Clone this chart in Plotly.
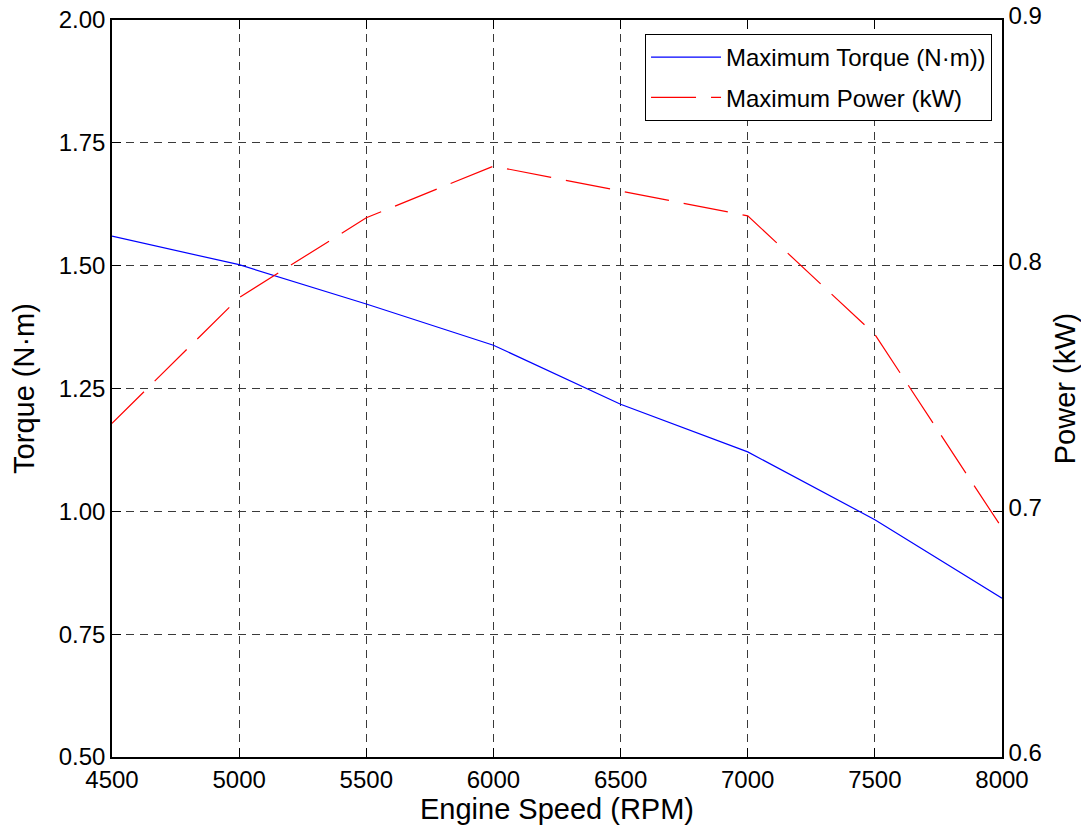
import plotly.graph_objects as go

# Engine performance curves
rpm = [4500, 5000, 5500, 6000, 6500, 7000, 7500, 8000]
torque_nm = [1.560, 1.502, 1.422, 1.338, 1.218, 1.121, 0.983, 0.823]
power_kw = [0.7358, 0.7870, 0.8195, 0.8405, 0.8304, 0.8203, 0.7720, 0.6932]

torque_ticks = [0.50, 0.75, 1.00, 1.25, 1.50, 1.75, 2.00]
power_ticks = [0.6, 0.7, 0.8, 0.9]
rpm_ticks = [4500, 5000, 5500, 6000, 6500, 7000, 7500, 8000]

FONT = "Liberation Sans, Arial, sans-serif"
fig = go.Figure()

fig.add_trace(go.Scatter(
    x=rpm, y=torque_nm, mode="lines", name="Maximum Torque (N·m))",
    legendgroup="torque",
    line=dict(color="#0000ff", width=1.2), yaxis="y"))
fig.add_trace(go.Scatter(
    x=rpm, y=power_kw, mode="lines", name="Maximum Power (kW)",
    legendgroup="power",
    line=dict(color="#ff0000", width=1.2, dash="45px,15px"), yaxis="y2"))

grid = dict(showgrid=True, gridcolor="#3a3a3a", gridwidth=1, griddash="8px,6px")

fig.update_layout(
    width=1081, height=829,
    margin=dict(l=112, r=79, t=20, b=72),
    paper_bgcolor="white", plot_bgcolor="white",
    font=dict(family=FONT, size=24, color="black"),
    xaxis=dict(
        range=[4500, 8000], tickvals=rpm_ticks, ticktext=[str(v) for v in rpm_ticks],
        showline=True, linecolor="black", linewidth=1.5, mirror="ticks",
        ticks="inside", ticklen=9, tickcolor="black", zeroline=False,
        automargin=False,
        title=dict(text="Engine Speed (RPM)", standoff=4),
        **grid),
    yaxis=dict(
        range=[0.5, 2.0], tickvals=torque_ticks,
        ticktext=[f"{v:.2f}" for v in torque_ticks],
        showline=True, linecolor="black", linewidth=1.5,
        ticks="inside", ticklen=9, tickcolor="black", zeroline=False,
        automargin=False,
        title=dict(text="Torque (N·m)", standoff=16),
        **grid),
    yaxis2=dict(
        range=[0.6, 0.9], tickvals=power_ticks,
        ticktext=[f"{v:.1f}" for v in power_ticks],
        overlaying="y", side="right",
        showline=True, linecolor="black", linewidth=1.5,
        ticks="inside", ticklen=9, tickcolor="black", zeroline=False,
        automargin=False, showgrid=False, ticklabelshift=-4,
        title=dict(text="Power (kW)", standoff=18)),
    legend=dict(
        x=0.9888, y=0.981, xanchor="right", yanchor="top",
        bgcolor="white", bordercolor="black", borderwidth=1,
        traceorder="grouped", tracegroupgap=6,
        font=dict(family=FONT, size=24), itemwidth=70),
    showlegend=True,
)

fig.write_html("out.html")
